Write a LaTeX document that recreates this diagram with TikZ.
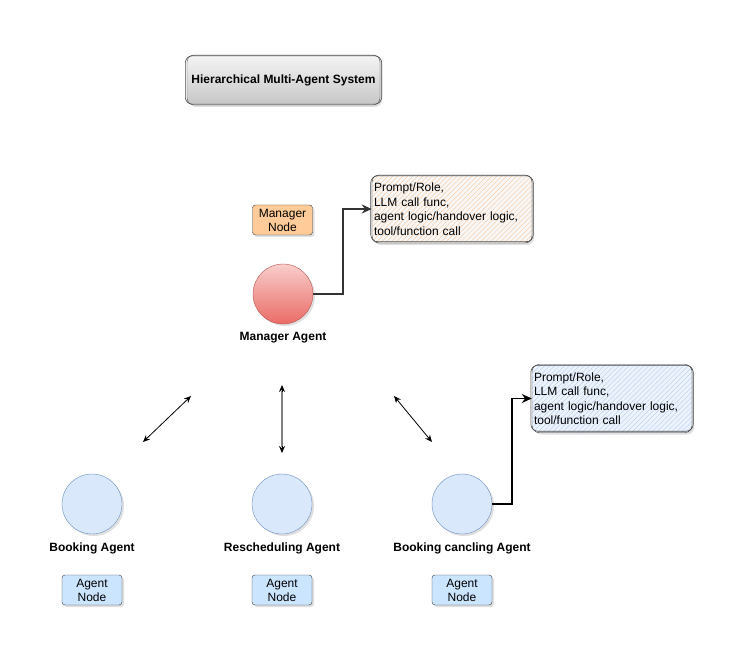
\documentclass[tikz,border=0pt]{standalone}
\usepackage{fontspec}
\setmainfont{Liberation Sans}
\usetikzlibrary{arrows.meta,shadows,patterns.meta,calc}
\definecolor{mgrfill}{HTML}{FFCC99}
\definecolor{agfill}{HTML}{CCE5FF}
\definecolor{boxline}{HTML}{36393D}
\definecolor{circblue}{HTML}{DAE8FC}
\definecolor{circblueline}{HTML}{6C8EBF}
\definecolor{redtop}{HTML}{F8CECC}
\definecolor{redbot}{HTML}{EA6B66}
\definecolor{redline}{HTML}{B85450}
\definecolor{hatchor}{HTML}{F9CFA8}
\definecolor{hatchbl}{HTML}{C2D3EA}
\definecolor{darkline}{HTML}{333333}
\tikzset{
  x=1pt,y=-1pt,
  shad/.style={drop shadow={opacity=0.25,shadow xshift=2pt,shadow yshift=-2pt}},
  tagbox/.style={draw=boxline,rounded corners=3pt,minimum width=60pt,minimum height=30pt,inner sep=0pt,align=center,font=\fontsize{12}{14}\selectfont,shad},
  agentc/.style={circle,draw=circblueline,fill=circblue,minimum size=60pt,inner sep=0pt,shad},
  lab/.style={font=\bfseries\fontsize{12}{14}\selectfont},
  note/.style={draw=black!85,rounded corners=7pt,minimum width=160pt,minimum height=68pt,inner sep=2pt,text width=156pt,align=left,font=\fontsize{12}{14.5}\selectfont,shad},
  conn/.style={line width=1.6pt,-{Stealth[length=10pt,width=9pt]}},
  dbl/.style={line width=0.8pt,{Stealth[length=7pt,width=6pt]}-{Stealth[length=7pt,width=6pt]}},
  tipone/.style={black,line width=0.8pt,-{Stealth[length=7pt,width=6pt]}},
  sketch/.style={draw=black!70,line width=0.6pt,rounded corners=7pt}
}
\begin{document}
\begin{tikzpicture}
\useasboundingbox (0,0) rectangle (749,668);
% title
\node[draw=black!70,rounded corners=7pt,minimum width=193pt,minimum height=50pt,top color=gray!8,bottom color=gray!45,font=\bfseries\fontsize{12}{14}\selectfont,shad] (title) at (283.5,80) {Hierarchical Multi-Agent System};
\draw[sketch] ([shift={(-1.5pt,1pt)}]title.south west) rectangle ([shift={(1.5pt,-1pt)}]title.north east);
% manager
\node[tagbox,fill=mgrfill] (mnode) at (282.5,220) {Manager\\Node};
\node[circle,draw=redline,top color=redtop,bottom color=redbot,minimum size=60pt,inner sep=0pt,shad] (mgr) at (283,294) {};
\node[lab] (mlab) at (283,338) {Manager Agent};
% notes
\node[note,preaction={fill=gray!6},pattern={Lines[angle=45,distance=3.5pt,line width=0.5pt]},pattern color=hatchor] (note1) at (452,209) {Prompt/Role,\\LLM call func,\\agent logic/handover logic,\\tool/function call};
\draw[sketch] ([shift={(-1pt,1.5pt)}]note1.south west) rectangle ([shift={(1pt,-1pt)}]note1.north east);
\node[note,preaction={fill=circblue!50},pattern={Lines[angle=45,distance=3.5pt,line width=0.5pt]},pattern color=hatchbl] (note2) at (612,398.5) {Prompt/Role,\\LLM call func,\\agent logic/handover logic,\\tool/function call};
\draw[sketch] ([shift={(-1pt,1.5pt)}]note2.south west) rectangle ([shift={(1pt,-1pt)}]note2.north east);
% agents
\node[agentc] (book) at (92,504) {};
\node[agentc] (resch) at (282,504) {};
\node[agentc] (cancel) at (462,504) {};
\node[lab] (blab) at (92,548) {Booking Agent};
\node[lab] (rlab) at (282,548) {Rescheduling Agent};
\node[lab] (clab) at (462,548) {Booking cancling Agent};
\node[tagbox,fill=agfill] (bnode) at (92,590) {Agent\\Node};
\node[tagbox,fill=agfill] (rnode) at (282,590) {Agent\\Node};
\node[tagbox,fill=agfill] (cnode) at (462,590) {Agent\\Node};
% connectors
\draw[conn,draw=darkline] (mgr.east) -- ++(30,0) |- (note1.west);
\draw[conn,draw=black] (cancel.east) -- ++(20,0) |- (note2.west);
% double arrows
\coordinate (a1) at (143,442); \coordinate (a2) at (191,396);
\coordinate (b1) at (282,385); \coordinate (b2) at (282,453);
\coordinate (c1) at (394,396); \coordinate (c2) at (432,442);
\draw[dbl] (a1) -- (a2);
\draw[draw=gray,line width=1.6pt,shorten <=6pt,shorten >=6pt] (b1) -- (b2);
\draw[tipone] ($(b1)+(0,7)$) -- (b1);
\draw[tipone] ($(b2)+(0,-7)$) -- (b2);
\draw[dbl] (c1) -- (c2);
\end{tikzpicture}
\end{document}
